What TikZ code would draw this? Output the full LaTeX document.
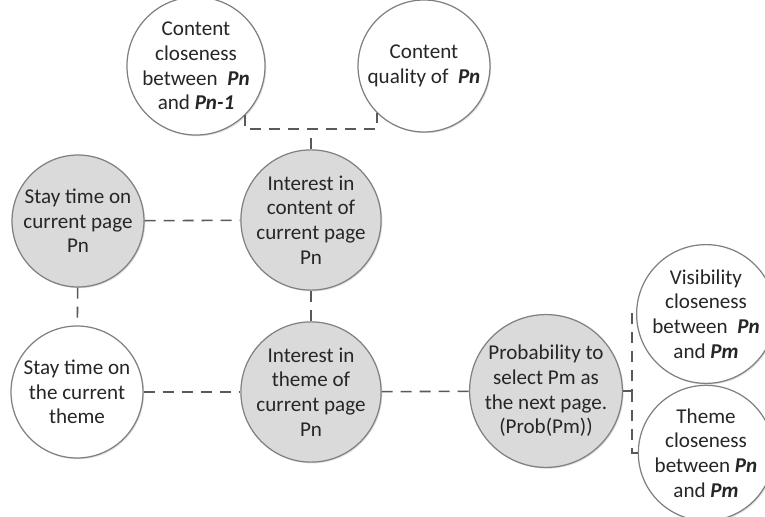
\documentclass[tikz,border=0pt]{standalone}
\usepackage{fontspec}
\setmainfont{Carlito}
\usetikzlibrary{shadows}
\definecolor{ringGray}{RGB}{128,128,128}
\definecolor{lineGray}{RGB}{89,89,89}
\definecolor{fillGray}{RGB}{218,218,218}

\begin{document}
\begin{tikzpicture}[x=0.02cm,y=-0.02cm,
    bubble/.style={circle,draw=ringGray,line width=0.7pt,fill=white,
      minimum size=2.64cm,inner sep=0pt,align=center,
      font=\fontsize{12}{14}\selectfont,text=black!85,
      drop shadow={shadow xshift=0.7pt,shadow yshift=-0.7pt,opacity=0.25}},
    shaded/.style={bubble,fill=fillGray},
    link/.style={lineGray,line width=0.9pt,dash pattern=on 0.22cm off 0.16cm}]

    \useasboundingbox (0,0) rectangle (765,517);

    % ── content side ──────────────────────────────────────
    \node[bubble] (cc) at (196,66)
      {Content\\closeness\\between~~\textbf{\textit{Pn}}\\and \textbf{\textit{Pn-1}}};
    \node[bubble] (cq) at (424,66)
      {Content\\quality of~~\textbf{\textit{Pn}}};
    \node[shaded] (sp) at (78,221) {Stay time on\\current page\\Pn};
    \node[shaded] (ic) at (311,220) {Interest in\\content of\\current page\\Pn};

    % ── theme side ────────────────────────────────────────
    \node[bubble] (st) at (77,392) {Stay time on\\the current\\theme};
    \node[shaded] (it) at (311,392) {Interest in\\theme of\\current page\\Pn};
    \node[shaded] (pr) at (546,391)
      {Probability to\\select Pm as\\the next page.\\(Prob(Pm))};
    \node[bubble] (vc) at (706,314)
      {Visibility\\closeness\\between~~\textbf{\textit{Pn}}\\and \textbf{\textit{Pm}}};
    \node[bubble] (tc) at (706,453)
      {Theme\\closeness\\between \textbf{\textit{Pn}}\\and \textbf{\textit{Pm}}};

    % connectors
    \draw[link] (ic.north) -- ++(0,-20) coordinate (tj);
    \draw[link] (cc.south east) -- (cc.south east |- tj)
                -- (cq.south west |- tj) -- (cq.south west);
    \draw[link] (sp) -- (ic);
    \draw[link] (sp) -- (st);
    \draw[link] (ic) -- (it);
    \draw[link] (st) -- (it);
    \draw[link] (it) -- (pr);
    \draw[link] (pr.east) -- ++(9,0) coordinate (bj) |- (vc.west);
    \draw[link] (bj) |- (tc.west);

\end{tikzpicture}
\end{document}
